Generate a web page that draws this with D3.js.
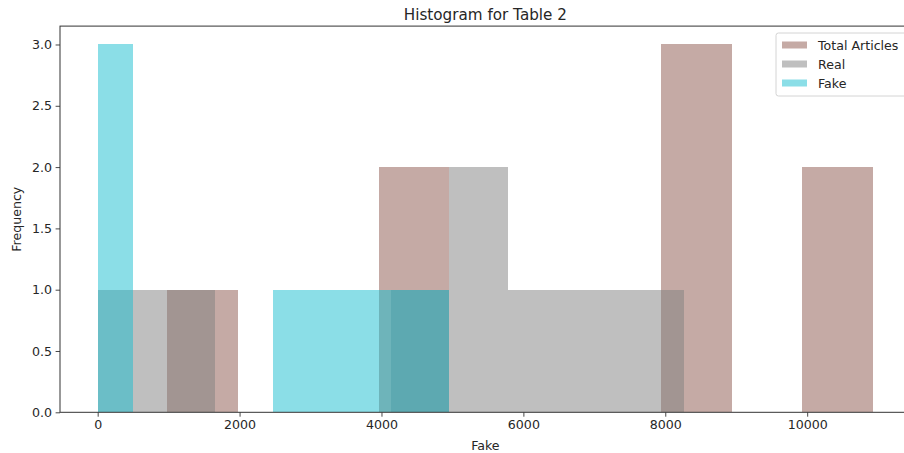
<!DOCTYPE html>
<html>
<head>
<meta charset="utf-8">
<script src="https://cdn.jsdelivr.net/npm/d3@7"></script>
<style>
  body { margin: 0; background: #fff; }
  svg text { font-family: "DejaVu Sans", sans-serif; fill: #262626; }
</style>
</head>
<body>
<svg id="chart" width="904" height="453"></svg>
<script>
// histogram bin counts (10 equal bins per series)
const seriesNames = ["Total Articles", "Real", "Fake"];
const seriesColors = ["#8c564b", "#7f7f7f", "#17becf"];
const totalRange = [977, 10925];
const totalCounts = [1, 0, 0, 2, 0, 0, 0, 3, 0, 2];
const realRange = [0, 8264];
const realCounts = [1, 1, 0, 0, 0, 1, 2, 1, 1, 1];
const fakeRange = [0, 4951];
const fakeCounts = [3, 0, 0, 0, 0, 1, 1, 1, 1, 1];
const xTicks = [0, 2000, 4000, 6000, 8000, 10000];
const yTicks = [0, 0.5, 1.0, 1.5, 2.0, 2.5, 3.0];

const margin = { left: 60, right: 910.7, top: 26.1, bottom: 412.3 };
const svg = d3.select("#chart");

const x = d3.scaleLinear().domain([-531, 11459]).range([margin.left, margin.right]);
const y = d3.scaleLinear().domain([0, 3.15]).range([margin.bottom, margin.top]);

// turn counts + range into bins
function makeBins(range, counts) {
    const w = (range[1] - range[0]) / counts.length;
    return counts.map((c, i) => ({ x0: range[0] + i * w, x1: range[0] + (i + 1) * w, count: c }));
}

const series = [
    makeBins(totalRange, totalCounts),
    makeBins(realRange, realCounts),
    makeBins(fakeRange, fakeCounts)
];

const plot = svg.append("g").attr("shape-rendering", "crispEdges");
series.forEach((bins, si) => {
    plot.append("g")
        .selectAll("rect")
        .data(bins.filter(d => d.count > 0))
        .enter().append("rect")
            .attr("x", d => x(d.x0))
            .attr("y", d => y(d.count))
            .attr("width", d => x(d.x1) - x(d.x0))
            .attr("height", d => y(0) - y(d.count))
            .attr("fill", seriesColors[si])
            .attr("fill-opacity", 0.5);
});

// axes
const xAxis = svg.append("g")
    .attr("transform", "translate(0," + margin.bottom + ")")
    .call(d3.axisBottom(x).tickValues(xTicks).tickFormat(d3.format("d")).tickSize(4.4).tickPadding(3.5));
const yAxis = svg.append("g")
    .attr("transform", "translate(" + margin.left + ",0)")
    .call(d3.axisLeft(y).tickValues(yTicks).tickFormat(d3.format(".1f")).tickSize(4.4).tickPadding(3.5));

[xAxis, yAxis].forEach(a => {
    a.select(".domain").remove();
    a.selectAll("line").attr("stroke", "#333").attr("stroke-width", 0.9);
    a.selectAll("text").style("font-size", "12.6px").attr("fill", "#262626");
});

// spines
svg.append("rect")
    .attr("x", margin.left).attr("y", margin.top)
    .attr("width", margin.right - margin.left).attr("height", margin.bottom - margin.top)
    .attr("fill", "none").attr("stroke", "#333").attr("stroke-width", 1);

// title and labels
const cx = (margin.left + margin.right) / 2;
svg.append("text").attr("x", cx).attr("y", 20)
    .attr("text-anchor", "middle").style("font-size", "15.2px")
    .text("Histogram for Table 2");
svg.append("text").attr("x", cx).attr("y", 449.5)
    .attr("text-anchor", "middle").style("font-size", "12.6px")
    .text("Fake");
svg.append("text")
    .attr("transform", "translate(20.5," + ((margin.top + margin.bottom) / 2) + ") rotate(-90)")
    .attr("text-anchor", "middle").style("font-size", "12.6px")
    .text("Frequency");

// legend
const legend = svg.append("g").attr("transform", "translate(776,33)");
legend.append("rect")
    .attr("width", 140).attr("height", 63).attr("rx", 2.5)
    .attr("fill", "#fff").attr("fill-opacity", 0.8)
    .attr("stroke", "#d4d4d4").attr("stroke-width", 1);
seriesNames.forEach((name, i) => {
    const row = legend.append("g").attr("transform", "translate(0," + (12 + i * 19) + ")");
    row.append("rect")
        .attr("x", 6).attr("y", -3.5).attr("width", 25).attr("height", 7)
        .attr("fill", seriesColors[i]).attr("fill-opacity", 0.5);
    row.append("text")
        .attr("x", 42).attr("y", 4.5).style("font-size", "12.6px")
        .text(name);
});
</script>
</body>
</html>
